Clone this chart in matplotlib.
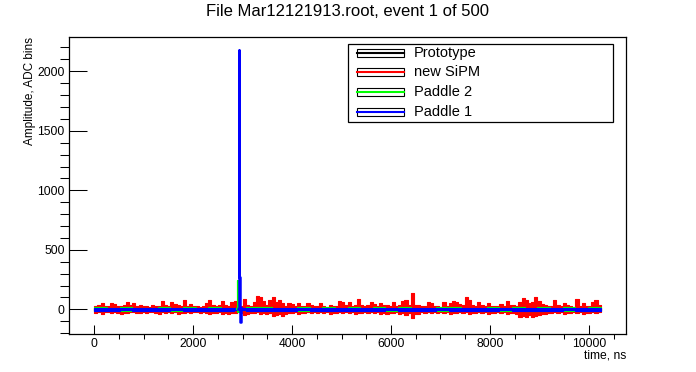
import numpy as np
import matplotlib
matplotlib.use('Agg')
import matplotlib.pyplot as plt
from matplotlib.patches import Rectangle
from matplotlib.lines import Line2D

plt.rcParams['font.family'] = ['Liberation Sans', 'DejaVu Sans']

# bin width of the red envelope arrays, ns
bin_ns = 64

# red channel (new SiPM): upper / lower envelope per 64 ns bin
red_hi = [30, 36, 55, 28, 32, 50, 45, 30, 26, 40, 64, 34, 50, 30, 40, 28, 30, 24, 35, 28,
          30, 70, 40, 30, 64, 45, 35, 28, 78, 30, 45, 32, 30, 22, 28, 50, 78, 40, 30, 40,
          72, 35, 30, 60, 72, 50, 30, 87, 40, 30, 60, 112, 100, 70, 40, 78, 106, 60, 78, 50,
          30, 55, 45, 28, 55, 30, 30, 50, 35, 25, 28, 55, 30, 22, 40, 30, 28, 70, 64, 35,
          64, 30, 40, 87, 40, 28, 35, 64, 45, 30, 50, 35, 35, 28, 58, 30, 35, 70, 78, 40,
          134, 35, 35, 28, 30, 64, 50, 32, 30, 24, 64, 30, 50, 70, 60, 45, 35, 100, 78, 40,
          30, 64, 40, 30, 50, 32, 30, 26, 45, 30, 70, 35, 40, 30, 60, 92, 78, 55, 60, 101,
          70, 45, 35, 28, 30, 78, 40, 30, 50, 35, 30, 24, 87, 30, 50, 32, 30, 64, 78, 36]
red_lo = [-28, -22, -35, -26, -25, -30, -22, -30, -38, -28, -28, -24, -25, -30, -32, -26, -30, -22, -25, -28,
          -35, -26, -28, -24, -30, -26, -40, -28, -28, -22, -32, -26, -25, -30, -22, -30, -42, -28, -30, -24,
          -39, -30, -35, -28, -30, -24, -30, -45, -35, -28, -30, -26, -40, -32, -35, -28, -53, -45, -40, -53,
          -40, -30, -30, -24, -35, -28, -28, -22, -32, -26, -30, -24, -28, -22, -35, -28, -30, -26, -32, -24,
          -30, -24, -35, -28, -28, -22, -32, -26, -30, -24, -40, -30, -35, -28, -30, -24, -38, -28, -45, -32,
          -70, -40, -35, -26, -30, -24, -28, -22, -32, -26, -30, -24, -35, -28, -30, -24, -28, -22, -35, -28,
          -30, -24, -32, -26, -35, -28, -28, -22, -30, -24, -35, -28, -30, -40, -62, -55, -60, -50, -62, -55,
          -50, -38, -35, -28, -30, -24, -32, -26, -35, -28, -28, -22, -30, -24, -35, -28, -30, -24, -32, -26]

# green channel (Paddle 2), 256 ns bins
green_hi = [16, 12, 18, 10, 14, 18, 12, 16, 10, 18, 14, 12, 16, 18, 10, 14, 18, 12, 16, 14,
            18, 10, 16, 12, 18, 14, 10, 16, 18, 12, 14, 18, 10, 16, 12, 18, 14, 16, 10, 18]
green_lo = [-12, -8, -14, -10, -6, -12, -14, -8, -12, -10, -14, -6, -12, -10, -14, -8, -12, -14, -10, -8,
            -12, -14, -8, -10, -12, -6, -14, -10, -12, -8, -14, -12, -10, -6, -14, -12, -8, -10, -14, -12]

# blue channel (Paddle 1), 256 ns bins
blue_hi = [12, 10, 14, 12, 10, 12, 14, 10, 12, 12, 10, 14, 12, 10, 12, 12, 14, 10, 12, 10,
           12, 12, 10, 14, 12, 10, 12, 14, 12, 10, 12, 10, 14, 12, 12, 10, 12, 14, 10, 12]
blue_lo = [-10, -12, -8, -10, -12, -10, -8, -12, -10, -10, -12, -8, -10, -12, -10, -10, -8, -12, -10, -12,
           -10, -10, -12, -8, -10, -12, -10, -8, -10, -12, -10, -12, -8, -10, -10, -12, -10, -8, -12, -10]

# black channel (Prototype), hidden underneath, 512 ns bins
black_hi = [6, 5, 7, 6, 5, 6, 7, 5, 6, 6, 5, 7, 6, 5, 6, 7, 5, 6, 6, 5]
black_lo = [-6, -5, -7, -6, -5, -6, -7, -5, -6, -6, -5, -7, -6, -5, -6, -7, -5, -6, -6, -5]

# the pulse
green_spike_t = [2880, 2900, 2915, 2940]
green_spike_v = [0, 240, -20, 0]
blue_spike_t = [2900, 2925, 2935, 2950, 2965, 2990]
blue_spike_v = [5, 2178, 274, -104, 10, 5]

channels = ['Prototype', 'new SiPM', 'Paddle 2', 'Paddle 1']
colors = ['black', '#ff0000', '#00ff00', '#0000ff']

fig = plt.figure(figsize=(6.96, 3.72), dpi=100)
ax = fig.add_axes([69/696, 38/372, 557/696, 297/372])

def band(hi, lo, total_ns, color):
    n = len(hi)
    edges = np.linspace(0, total_ns, n + 1)
    h = np.append(hi, hi[-1])
    l = np.append(lo, lo[-1])
    ax.fill_between(edges, l, h, step='post', color=color, lw=0.8, edgecolor=color)

total = bin_ns * len(red_hi)
band(black_hi, black_lo, total, colors[0])
band(red_hi, red_lo, total, colors[1])
band(green_hi, green_lo, total, colors[2])
ax.plot(green_spike_t, green_spike_v, drawstyle='steps-post', color=colors[2], lw=1.5)
band(blue_hi, blue_lo, total, colors[3])
ax.plot(blue_spike_t, blue_spike_v, drawstyle='steps-post', color=colors[3], lw=1.8)

ax.set_xlim(-512, 10752)
ax.set_ylim(-207, 2288)
ax.set_xticks(np.arange(0, 10001, 2000))
ax.set_xticks(np.arange(500, 10751, 500), minor=True)
ax.set_yticks(np.arange(0, 2001, 500))
ax.set_yticks(np.arange(-200, 2288, 100), minor=True)
ax.tick_params(axis='both', direction='in', labelsize=8.7, width=0.75, top=False, right=False)
ax.tick_params(axis='y', which='major', length=13, pad=3)
ax.tick_params(axis='y', which='minor', length=6.5, width=0.75)
ax.tick_params(axis='x', which='major', length=6.5, pad=3)
ax.tick_params(axis='x', which='minor', length=3.6, width=0.75)
for s in ax.spines.values():
    s.set_linewidth(0.9)

fig.text(0.5, 1 - 12/372, 'File Mar12121913.root, event 1 of 500', ha='center', va='center', fontsize=12)
fig.text(30/696, 1 - 37/372, 'Amplitude, ADC bins', rotation=90, ha='center', va='top', fontsize=8.5)
fig.text(626/696, 1 - 355/372, 'time, ns', ha='right', va='center', fontsize=8.7)

# ROOT-style legend box
W, H = 696.0, 372.0
fig.add_artist(Rectangle((348/W, 1 - 122/H), 265/W, 78/H, transform=fig.transFigure,
                         facecolor='white', edgecolor='black', lw=0.9, zorder=5))
row_y = [52.7, 72.3, 92.0, 111.5]
for name, c, yy in zip(channels, colors, row_y):
    fig.add_artist(Rectangle((357/W, 1 - (yy + 4)/H), 47/W, 8/H, transform=fig.transFigure,
                             facecolor='white', edgecolor='black', lw=0.8, zorder=6))
    fig.add_artist(Line2D([357/W, 404/W], [1 - yy/H, 1 - yy/H], transform=fig.transFigure,
                          color=c, lw=1.5, zorder=7))
    fig.text(414/W, 1 - yy/H, name, ha='left', va='center', fontsize=10.5, zorder=7)

fig.savefig('out.png', dpi=100)
